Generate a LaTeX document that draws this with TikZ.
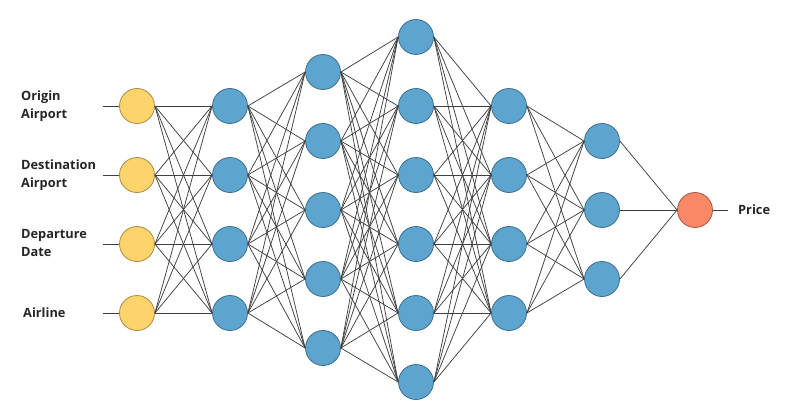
\documentclass[tikz,border=0pt]{standalone}
\usepackage{fontspec}
\setmainfont{Open Sans}
\definecolor{yfill}{HTML}{FDD46C}
\definecolor{ydraw}{HTML}{A88B45}
\definecolor{bfill}{HTML}{5DA5CF}
\definecolor{bdraw}{HTML}{3E6F8C}
\definecolor{ofill}{HTML}{FA8866}
\definecolor{odraw}{HTML}{A05A45}
\definecolor{edgec}{HTML}{404040}
\tikzset{
  neuron/.style={circle, minimum size=35pt, inner sep=0pt, line width=0.8pt},
  inneuron/.style={neuron, fill=yfill, draw=ydraw},
  hidneuron/.style={neuron, fill=bfill, draw=bdraw},
  outneuron/.style={neuron, fill=ofill, draw=odraw},
  conn/.style={draw=edgec, line width=0.75pt},
  lbl/.style={font=\fontsize{12.8pt}{18pt}\selectfont\bfseries, align=left, anchor=west, inner sep=0pt, text=black!85}
}
\begin{document}
\begin{tikzpicture}[x=1pt,y=-1pt]
\useasboundingbox (0,0) rectangle (800,420);
% input layer
\foreach \i/\y in {1/106,2/175,3/244,4/313} {
  \node[inneuron] (I\i) at (137,\y) {};
}
% hidden layer 1
\foreach \i/\y in {1/106,2/175,3/244,4/313} {
  \node[hidneuron] (A\i) at (230,\y) {};
}
% hidden layer 2
\foreach \i/\y in {1/72,2/141,3/210,4/279,5/348} {
  \node[hidneuron] (B\i) at (323,\y) {};
}
% hidden layer 3
\foreach \i/\y in {1/37,2/106,3/175,4/244,5/313,6/382} {
  \node[hidneuron] (C\i) at (416,\y) {};
}
% hidden layer 4
\foreach \i/\y in {1/106,2/175,3/244,4/313} {
  \node[hidneuron] (D\i) at (509,\y) {};
}
% hidden layer 5
\foreach \i/\y in {1/141,2/210,3/279} {
  \node[hidneuron] (E\i) at (602,\y) {};
}
\node[outneuron] (O) at (695,210) {};
% connections
\foreach \a in {1,...,4} \foreach \b in {1,...,4} \draw[conn] (I\a.east) -- (A\b.west);
\foreach \a in {1,...,4} \foreach \b in {1,...,5} \draw[conn] (A\a.east) -- (B\b.west);
\foreach \a in {1,...,5} \foreach \b in {1,...,6} \draw[conn] (B\a.east) -- (C\b.west);
\foreach \a in {1,...,6} \foreach \b in {1,...,4} \draw[conn] (C\a.east) -- (D\b.west);
\foreach \a in {1,...,4} \foreach \b in {1,...,3} \draw[conn] (D\a.east) -- (E\b.west);
\foreach \a in {1,...,3} \draw[conn] (E\a.east) -- (O.west);
% input stubs and labels
\foreach \i/\y in {1/106,2/175,3/244,4/313} {
  \coordinate (S\i) at (103,\y);
  \draw[conn] (S\i) -- (I\i.west);
}
\coordinate (T) at (728,210);
\draw[conn] (O.east) -- (T);
\node[lbl] (L1) at (21,106) {Origin\\Airport};
\node[lbl] (L2) at (21,175) {Destination\\Airport};
\node[lbl] (L3) at (21,243) {Departure\\Date};
\node[lbl] (L4) at (23,313) {Airline};
\node[lbl] (L5) at (738,210) {Price};
\end{tikzpicture}
\end{document}
